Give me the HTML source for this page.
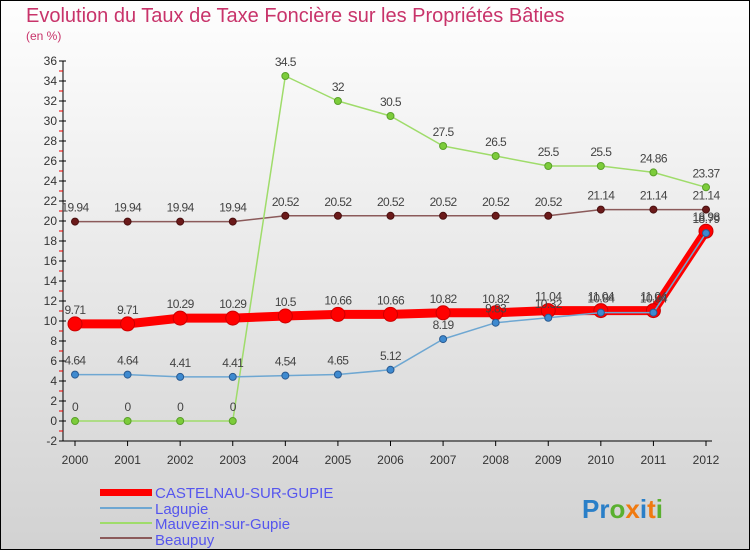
<!DOCTYPE html>
<html><head><meta charset="utf-8"><style>
body{margin:0;width:750px;height:550px;overflow:hidden;font-family:"Liberation Sans",sans-serif}
</style></head><body>
<svg id="c" width="750" height="550" xmlns="http://www.w3.org/2000/svg">
<defs><linearGradient id="bg" x1="0" y1="0" x2="0" y2="1"><stop offset="0" stop-color="#fefefe"/><stop offset="1" stop-color="#d2d2d2"/></linearGradient></defs>
<rect x="0" y="0" width="750" height="550" fill="url(#bg)" stroke="#000" stroke-width="2"/>
<text x="26" y="22" font-size="20" fill="#c8336a">Evolution du Taux de Taxe Foncière sur les Propriétés Bâties</text>
<text x="26" y="40" font-size="12" fill="#c8336a">(en %)</text>
<g id="axes"></g><g id="series"></g>
<g>
<rect x="100" y="489" width="52" height="7" fill="#f00"/>
<text x="155" y="498" font-size="15" fill="#5555ee">CASTELNAU-SUR-GUPIE</text>
<rect x="100" y="507" width="52" height="2" fill="#6ea7d2"/>
<text x="155" y="514" font-size="15" fill="#5555ee">Lagupie</text>
<rect x="100" y="522" width="52" height="2" fill="#9fdc6a"/>
<text x="155" y="529" font-size="15" fill="#5555ee">Mauvezin-sur-Gupie</text>
<rect x="100" y="537" width="52" height="2" fill="#8b5a5a"/>
<text x="155" y="545" font-size="15" fill="#5555ee">Beaupuy</text>
</g>
<text x="582" y="518" font-size="26" font-weight="bold"><tspan fill="#2a7fc8">Pr</tspan><tspan fill="#5ab030">o</tspan><tspan fill="#f07a10">x</tspan><tspan fill="#2a7fc8">i</tspan><tspan fill="#f07a10">t</tspan><tspan fill="#5ab030">i</tspan></text>
</svg>
<script>
const years=[2000,2001,2002,2003,2004,2005,2006,2007,2008,2009,2010,2011,2012];
const castelnau=[9.71,9.71,10.29,10.29,10.5,10.66,10.66,10.82,10.82,11.04,11.04,11.04,18.98];
const lagupie=[4.64,4.64,4.41,4.41,4.54,4.65,5.12,8.19,9.83,10.32,10.84,10.84,18.79];
const mauvezin=[0,0,0,0,34.5,32,30.5,27.5,26.5,25.5,25.5,24.86,23.37];
const beaupuy=[19.94,19.94,19.94,19.94,20.52,20.52,20.52,20.52,20.52,20.52,21.14,21.14,21.14];
const yTicks=[-2,0,2,4,6,8,10,12,14,16,18,20,22,24,26,28,30,32,34,36];
const NS="http://www.w3.org/2000/svg";
const xS=i=>75+i*(706-75)/(years.length-1);
const yS=v=>421-v*10;
function mk(t,a,p){const e=document.createElementNS(NS,t);for(const k in a)e.setAttribute(k,a[k]);p.appendChild(e);return e;}
const ax=document.getElementById('axes');
const ya=mk('line',{x1:63,y1:yS(36),x2:63,y2:yS(-2),stroke:'#000'},ax);


const xa=mk('line',{x1:63,y1:yS(-2),x2:712,y2:yS(-2),stroke:'#000'},ax);


yTicks.forEach(v=>{
  mk('line',{x1:59,y1:yS(v),x2:66,y2:yS(v),stroke:'#000'},ax);
  if(v<36)mk('line',{x1:59,y1:yS(v+1),x2:63,y2:yS(v+1),stroke:'#e00'},ax);
  const t=mk('text',{x:57,y:yS(v)+4,'font-size':12,fill:'#333','text-anchor':'end'},ax);
  t.textContent=v;
  
  
});
years.forEach((y,i)=>{
  mk('line',{x1:xS(i),y1:yS(-2),x2:xS(i),y2:yS(-2)+5,stroke:'#000'},ax);
  const t=mk('text',{x:xS(i),y:464,'font-size':12,fill:'#333','text-anchor':'middle'},ax);
  t.textContent=y;
  
  
});
const sg=document.getElementById('series');
function draw(data,name,color,w,r,dot,dotStroke){
  const g=mk('g',{},sg);
  
  
  const pl=mk('polyline',{points:data.map((v,i)=>xS(i)+','+yS(v)).join(' '),fill:'none',stroke:color,'stroke-width':w,'stroke-linejoin':'round'},g);
  
  
  data.forEach((v,i)=>{
    const c=mk('circle',{cx:xS(i),cy:yS(v),r:r,fill:dot,stroke:dotStroke,'stroke-width':1},g);
    
    
    const t=mk('text',{x:xS(i),y:yS(v)-10,'font-size':12,fill:'#444','text-anchor':'middle','letter-spacing':'-0.6'},g);
    t.textContent=v;
    
    
  });
}
draw(beaupuy,'beaupuy','#8b5a5a',1.5,3.5,'#6b1a1a','#4a1010');
draw(mauvezin,'mauvezin','#9fdc6a',1.5,3.5,'#7ccc3a','#5aa02a');
draw(castelnau,'castelnau','#f00',9,7,'#f00','#c00');
draw(lagupie,'lagupie','#6ea7d2',1.5,3.5,'#3e8ad0','#2a5a90');
</script>
</body></html>
